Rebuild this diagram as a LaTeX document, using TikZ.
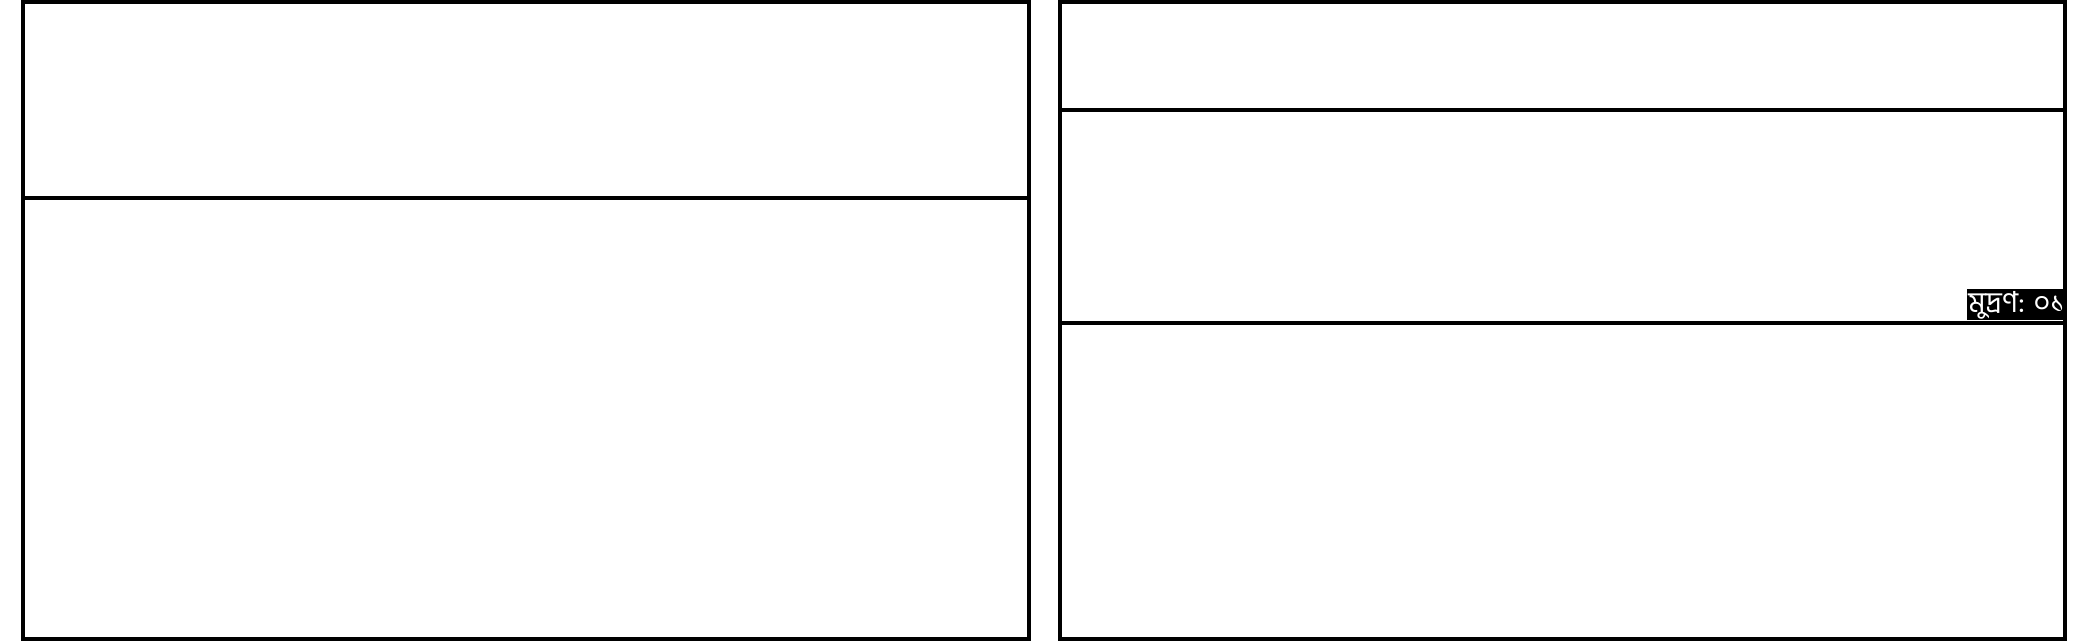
\documentclass[tikz,border=0pt]{standalone}
\usepackage{fontspec}
\newfontfamily\bnfont[Script=Bengali]{Hind Siliguri}
\begin{document}
\begin{tikzpicture}[x=1pt,y=-1pt,
  frame/.style={draw=black,line width=4pt},
  sep/.style={draw=black,line width=4pt},
  tag/.style={fill=black,text=white,font=\bnfont\fontsize{29}{31}\selectfont,inner xsep=1pt,inner ysep=1.5pt,anchor=south east}]
\useasboundingbox (0,0) rectangle (2088,641);
\draw[frame] (22.5,2) rectangle (1028.5,639);
\draw[sep] (22.5,197.5) -- (1028.5,197.5);
\draw[frame] (1059.5,2) rectangle (2064.5,639);
\draw[sep] (1059.5,110) -- (2064.5,110);
\draw[sep] (1059.5,322.5) -- (2064.5,322.5);
\node[tag] (lbl) at (2066,320.5) {মুদ্রণ: ০১};
\draw[frame] (2064.5,2) -- (2064.5,639);
\end{tikzpicture}
\end{document}
